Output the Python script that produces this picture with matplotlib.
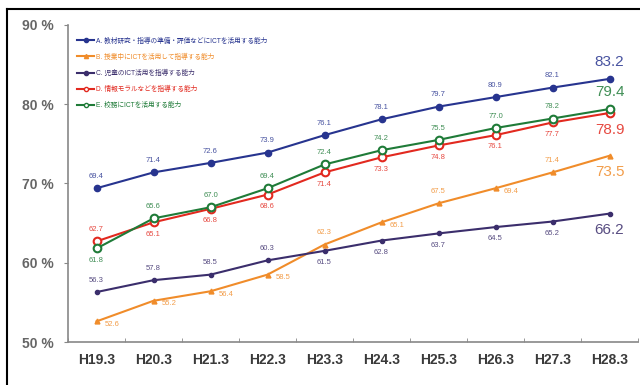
import numpy as np
import matplotlib
matplotlib.use("Agg")
import matplotlib.pyplot as plt
from matplotlib.lines import Line2D

plt.rcParams['font.family'] = ['Liberation Sans', 'Noto Sans CJK JP', 'DejaVu Sans']

years = ["H19.3", "H20.3", "H21.3", "H22.3", "H23.3", "H24.3", "H25.3", "H26.3", "H27.3", "H28.3"]

names = [
    "A. 教材研究・指導の準備・評価などにICTを活用する能力",
    "B. 授業中にICTを活用して指導する能力",
    "C. 児童のICT活用を指導する能力",
    "D. 情報モラルなどを指導する能力",
    "E. 校務にICTを活用する能力",
]

a_vals = [69.4, 71.4, 72.6, 73.9, 76.1, 78.1, 79.7, 80.9, 82.1, 83.2]
b_vals = [52.6, 55.2, 56.4, 58.5, 62.3, 65.1, 67.5, 69.4, 71.4, 73.5]
c_vals = [56.3, 57.8, 58.5, 60.3, 61.5, 62.8, 63.7, 64.5, 65.2, 66.2]
d_vals = [62.7, 65.1, 66.8, 68.6, 71.4, 73.3, 74.8, 76.1, 77.7, 78.9]
e_vals = [61.8, 65.6, 67.0, 69.4, 72.4, 74.2, 75.5, 77.0, 78.2, 79.4]

# where each value label sits: a=above, b=below, r=right
a_pos = "aaaaaaaaaa"
b_pos = "rrrrararab"
c_pos = "aaaabbbbbb"
d_pos = "abbbbbbbbb"
e_pos = "baaaaaaaaa"

colors = ["#27348f", "#f08c2a", "#3b2e6c", "#e2291f", "#1f7b38"]
markers = ["o", "^", "o", "o", "o"]
msizes = [4.5, 3.5, 3, 5.5, 5.5]
mfaces = [None, None, None, "white", "white"]

fig = plt.figure(figsize=(6.4, 3.85), dpi=100)
ax = fig.add_axes([68 / 640, 1 - 342 / 385, 570 / 640, 317 / 385])

x = np.arange(len(years))
series = [a_vals, b_vals, c_vals, d_vals, e_vals]
positions = [a_pos, b_pos, c_pos, d_pos, e_pos]

handles = []
for vals, pos, col, mk, ms, mf, name in zip(series, positions, colors, markers, msizes, mfaces, names):
    ax.plot(x, vals, color=col, lw=1.5, marker=mk, ms=ms,
            mfc=mf if mf else col, mec=col, mew=1.5 if mf else 1, zorder=3)
    handles.append(Line2D([], [], color=col, lw=1.5, marker=mk, ms=3,
                          mfc=mf if mf else col, mec=col, label=name))
    for i, (v, p) in enumerate(zip(vals, pos)):
        last = i == len(vals) - 1
        fs = 11 if last else 5.5
        d = 12 if last else 8.5
        if p == "a":
            off, ha = (0, d), "center"
        elif p == "b":
            off, ha = (0, -d), "center"
        else:
            off, ha = (6, -2), "left"
        ax.annotate(f"{v:.1f}", (i, v), xytext=off, textcoords="offset points",
                    ha=ha, va="center", fontsize=fs, color=col, alpha=0.85)

ax.set_xlim(-0.5, len(years) - 0.5)
ax.set_ylim(50, 90)
ax.set_yticks([50, 60, 70, 80, 90])
ax.set_yticklabels(["50 %", "60 %", "70 %", "80 %", "90 %"])
ax.set_xticks(x)
ax.set_xticklabels(years)
ax.set_xticks(np.arange(-0.5, len(years)), minor=True)
ax.tick_params(axis="x", which="major", length=0, pad=8, labelsize=10, labelcolor="#3a3a3a")
ax.tick_params(axis="x", which="minor", length=3, direction="in", color="#888888")
ax.tick_params(axis="y", length=3, direction="out", color="#888888", pad=7,
               labelsize=10, labelcolor="#666666")
for lab in ax.get_xticklabels() + ax.get_yticklabels():
    lab.set_fontweight("bold")
for s in ["top", "right"]:
    ax.spines[s].set_visible(False)
for s in ["left", "bottom"]:
    ax.spines[s].set_color("#888888")
    ax.spines[s].set_linewidth(1.2)

leg = ax.legend(handles=handles, loc="upper left", bbox_to_anchor=(0.005, 0.98),
                frameon=False, fontsize=4.8, labelcolor="linecolor",
                handlelength=2.6, handletextpad=0.3, labelspacing=1.35)

# outer frame of the original figure
fig.add_artist(Line2D([7 / 640, 1], [1 - 9 / 385] * 2, color="black", lw=1.5))
fig.add_artist(Line2D([7 / 640] * 2, [0, 1 - 9 / 385], color="black", lw=1.5))

fig.savefig("out.png", dpi=100)
